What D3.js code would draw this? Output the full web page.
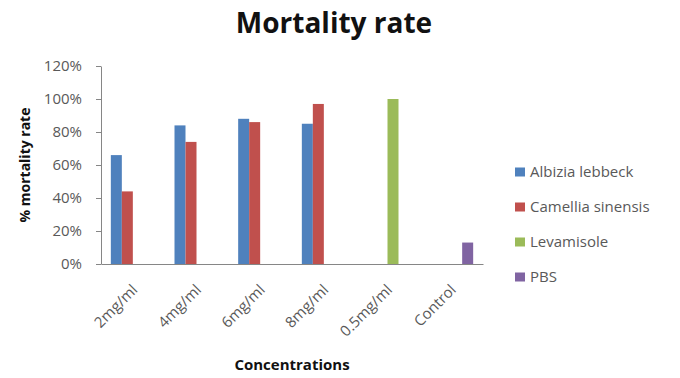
<!DOCTYPE html>
<html><head><meta charset="utf-8">
<script src="https://cdn.jsdelivr.net/npm/d3@7"></script>
<style>
body{margin:0;background:#fff;}
text{font-family:"Open Sans",Lato,sans-serif;}
</style></head>
<body><svg id="c" width="680" height="378"></svg>
<script>
const categories = ["2mg/ml","4mg/ml","6mg/ml","8mg/ml","0.5mg/ml","Control"];
const seriesNames = ["Albizia lebbeck","Camellia sinensis","Levamisole","PBS"];
const albizia = [66, 84, 88, 85, null, null];
const camellia = [44, 74, 86, 97, null, null];
const levamisole = [null, null, null, null, 100, null];
const pbs = [null, null, null, null, null, 13];
const yTicks = [0, 20, 40, 60, 80, 100, 120];
const colors = ["#4F81BD","#C0504D","#9BBB59","#8064A2"];

const seriesData = [albizia, camellia, levamisole, pbs];
const svg = d3.select("#c");
const m = {left:101, right:483, top:66, bottom:264};

const x = d3.scaleBand().domain(categories).range([m.left, m.right]).paddingInner(0).paddingOuter(0);
const inner = d3.scaleBand().domain(seriesNames).range([0, 44]);
const off = (x.bandwidth() - 44) / 2;
const y = d3.scaleLinear().domain([0,120]).range([m.bottom, m.top]);

// bars
seriesData.forEach((vals, si) => {
  svg.append("g").selectAll("rect")
    .data(categories.map((c,i)=>({c, v: vals[i]})).filter(d=>d.v!=null))
    .join("rect")
    .attr("x", d => x(d.c) + off + inner(seriesNames[si]))
    .attr("width", inner.bandwidth())
    .attr("y", d => y(d.v))
    .attr("height", d => y(0) - y(d.v))
    .attr("fill", colors[si]);
});

// y axis
const ya = svg.append("g").attr("transform", `translate(${m.left},0)`)
  .call(d3.axisLeft(y).tickValues(yTicks).tickFormat(d=>d+"%").tickSize(5).tickSizeOuter(0));
ya.select(".domain").attr("stroke","#868686");
ya.selectAll(".tick line").attr("stroke","#868686");
ya.selectAll(".tick text").attr("fill","#595959").attr("font-size",15).attr("x",-19);

// x axis
const xa = svg.append("g").attr("transform", `translate(0,${m.bottom})`)
  .call(d3.axisBottom(x).tickSize(0).tickSizeOuter(0));
xa.select(".domain").attr("stroke","#868686");
xa.selectAll(".tick text")
  .attr("fill","#595959").attr("font-size",15)
  .attr("text-anchor","end")
  .attr("transform","translate(2,23) rotate(-45)")
  .attr("x",0).attr("y",0).attr("dy","0.35em");

// titles
svg.append("text").attr("x",334).attr("y",33).attr("text-anchor","middle")
  .attr("font-size",28).attr("font-weight","bold").attr("fill","#111").text("Mortality rate");
svg.append("text").attr("transform","translate(30,165) rotate(-90)").attr("text-anchor","middle")
  .attr("font-size",14).attr("font-weight","bold").attr("fill","#111").text("% mortality rate");
svg.append("text").attr("x",292).attr("y",370).attr("text-anchor","middle")
  .attr("font-size",15).attr("font-weight","bold").attr("fill","#111").text("Concentrations");

// legend
const lg = svg.append("g");
seriesNames.forEach((n,i)=>{
  const yy = 172 + i*35;
  lg.append("rect").attr("x",515).attr("y",yy-4.5).attr("width",10).attr("height",9).attr("fill",colors[i]);
  lg.append("text").attr("x",530).attr("y",yy).attr("dy","0.35em").attr("font-size",15)
    .attr("fill","#595959").text(n);
});
</script></body></html>
